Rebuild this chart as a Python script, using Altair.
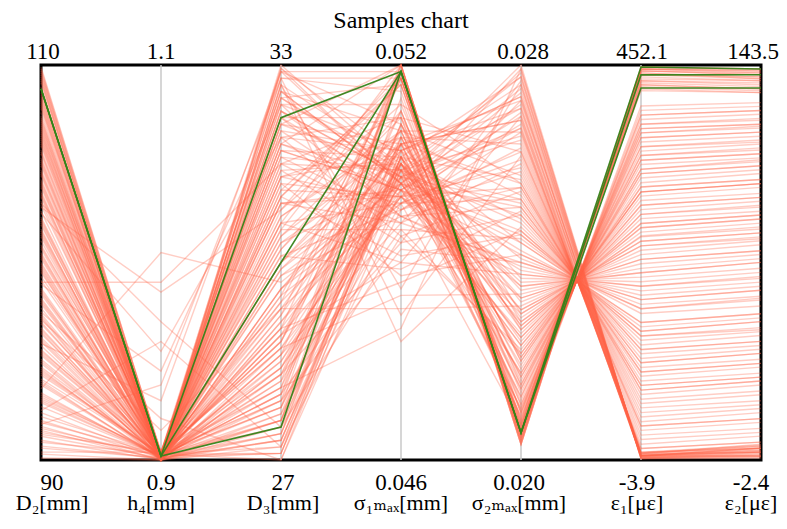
import altair as alt
import pandas as pd

# ---- axes ----
axis_keys = ["D2", "h4", "D3", "s1", "s2", "e1", "e2"]
axis_names = ["D₂[mm]", "h₄[mm]", "D₃[mm]", "σ₁ₘₐₓ[mm]", "σ₂ₘₐₓ[mm]", "ε₁[με]", "ε₂[με]"]
axis_min = [90, 0.9, 27, 0.046, 0.020, -3.9, -2.4]
axis_max = [110, 1.1, 33, 0.052, 0.028, 452.1, 143.5]
min_labels = ["90", "0.9", "27", "0.046", "0.020", "-3.9", "-2.4"]
max_labels = ["110", "1.1", "33", "0.052", "0.028", "452.1", "143.5"]
# label nudges (pixels) for the outermost axes, keeping labels on the page
top_nudge = [2, 0, 0, 0, 2, 1, -8]
bot_nudge = [11, 0, 2, 0, -2, -4, -10]

# ---- sample lines ----
d2 = [105.2, 93.1, 109.4, 98.7, 101.5, 91.2, 107.8, 96.4, 103.9, 99.1,
      94.6, 108.3, 92.5, 104.7, 100.8, 97.2, 106.5, 90.6, 102.3, 95.8,
      109.8, 93.9, 101.1, 107.1, 98.0, 91.8, 104.2, 96.9, 108.9, 100.2,
      94.1, 105.9, 99.6, 92.9, 103.4, 97.7, 106.9, 90.3, 102.8, 95.3,
      108.6, 94.9, 101.9, 109.1, 96.1, 104.5, 91.5, 99.9, 106.2, 93.4,
      100.5, 107.4, 97.5, 103.1, 92.2, 105.5, 98.4, 109.6, 95.1, 102.0,
      90.9, 104.0, 96.7, 108.0, 99.3, 93.6, 106.0, 101.3, 94.3, 107.6,
      97.9, 103.6, 91.0, 105.0, 100.0, 109.2, 95.6, 102.6, 98.9, 92.7,
      106.7, 96.2, 104.9, 93.0, 108.4, 99.5, 101.7, 94.4, 107.0, 97.0,
      103.0, 90.1, 105.7, 98.2, 109.9, 95.0, 102.1, 91.6, 106.4, 100.7,
      97.4, 104.4, 91.4, 108.1, 100.4, 95.5, 106.3, 92.0, 102.5, 109.5,
      98.5, 94.0, 105.3, 101.6, 90.4, 107.3, 96.6, 103.3, 93.3, 99.8,
      108.7, 95.9, 104.1, 91.9, 106.8, 98.1, 102.9, 94.7, 109.7, 100.9,
      92.4, 105.6, 97.3, 107.9, 90.7, 103.8, 99.0, 96.0, 106.1, 93.8,
      101.4, 108.2, 94.5, 104.6, 91.3, 98.6, 107.2, 95.4, 102.2, 109.3,
      93.2, 100.3, 105.1, 97.1, 91.7, 106.6, 99.7, 103.5, 96.5, 108.5]

h4 = [0.901, 0.903, 0.900, 0.902, 0.904, 0.901, 0.900, 0.903, 0.902, 0.903,
      0.900, 0.901, 0.960, 0.902, 0.904, 0.900, 0.903, 0.901, 0.902, 0.900,
      0.903, 0.901, 0.903, 0.900, 0.902, 0.938, 0.901, 0.904, 0.900, 0.902,
      0.903, 0.901, 0.900, 0.902, 0.904, 0.901, 0.903, 0.900, 0.985, 0.902,
      0.901, 0.900, 0.903, 0.902, 0.901, 0.904, 0.900, 0.902, 0.903, 0.901,
      0.900, 0.902, 0.921, 0.901, 0.903, 0.900, 0.902, 0.904, 0.901, 0.900,
      0.903, 0.902, 0.901, 0.900, 0.904, 1.005, 0.902, 0.901, 0.903, 0.900,
      0.902, 0.901, 0.900, 0.903, 0.902, 0.904, 0.901, 0.900, 0.945, 0.902,
      0.901, 0.903, 0.900, 0.902, 0.901, 0.904, 0.900, 0.903, 0.902, 0.901,
      0.970, 0.900, 0.902, 0.901, 0.903, 0.900, 0.904, 0.902, 0.901, 0.900,
      0.902, 0.900, 0.903, 0.901, 0.902, 0.904, 0.900, 0.901, 0.955, 0.902,
      0.903, 0.900, 0.901, 0.902, 0.904, 0.900, 0.903, 0.901, 0.902, 0.900,
      0.901, 0.930, 0.902, 0.903, 0.900, 0.901, 0.904, 0.902, 0.900, 0.903,
      0.901, 0.902, 0.900, 0.904, 0.901, 0.903, 0.990, 0.900, 0.902, 0.901,
      0.903, 0.900, 0.902, 0.901, 0.904, 0.900, 0.903, 0.902, 0.901, 0.900,
      0.902, 0.903, 0.901, 0.915, 0.900, 0.902, 0.901, 0.903, 0.900, 0.902]

d3 = [32.5, 28.1, 30.9, 27.4, 32.9, 29.6, 31.7, 27.9, 33.0, 30.2,
      28.6, 32.2, 27.2, 31.3, 29.0, 32.7, 28.3, 30.6, 31.9, 27.6,
      32.4, 29.3, 28.8, 31.1, 27.1, 32.8, 30.0, 28.4, 31.5, 29.8,
      27.8, 32.1, 30.4, 28.9, 32.6, 27.3, 31.8, 29.1, 30.8, 28.0,
      32.3, 27.5, 31.0, 29.5, 32.95, 28.7, 30.3, 27.7, 31.6, 28.2,
      32.0, 29.9, 27.0, 31.4, 28.5, 32.5, 30.7, 27.9, 31.2, 29.2,
      32.8, 28.0, 30.1, 27.4, 31.9, 29.7, 32.2, 28.6, 30.5, 27.2,
      31.7, 28.9, 32.7, 29.4, 27.6, 31.3, 30.9, 28.3, 32.4, 27.8,
      29.0, 32.1, 28.4, 31.0, 27.1, 30.6, 32.9, 28.8, 31.5, 29.6,
      27.5, 32.3, 30.2, 28.1, 31.8, 27.3, 29.3, 32.6, 30.0, 28.7,
      31.4, 27.7, 32.6, 29.4, 28.2, 32.0, 30.5, 27.3, 31.9, 28.9,
      32.8, 29.9, 27.6, 31.2, 30.3, 28.5, 32.4, 27.9, 31.6, 29.1,
      30.7, 32.9, 28.3, 27.1, 31.0, 29.6, 32.3, 28.0, 30.1, 27.5,
      31.8, 29.2, 32.7, 28.7, 27.4, 30.9, 31.5, 28.4, 32.1, 29.8,
      27.8, 31.3, 30.4, 32.5, 28.1, 29.5, 27.2, 31.7, 30.0, 28.6,
      32.2, 27.0, 30.8, 29.3, 31.1, 28.8, 32.95, 27.6, 30.6, 29.0]

s1 = [0.0503, 0.0508, 0.0496, 0.0511, 0.0519, 0.0500, 0.0506, 0.0492, 0.0504, 0.0513,
      0.0518, 0.0501, 0.0498, 0.0509, 0.0487, 0.0505, 0.0502, 0.0520, 0.0494, 0.0515,
      0.0507, 0.0499, 0.0510, 0.0517, 0.0503, 0.0482, 0.0505, 0.0500, 0.0512, 0.0497,
      0.0519, 0.0504, 0.0508, 0.0490, 0.0502, 0.0506, 0.0520, 0.0501, 0.0514, 0.0495,
      0.0503, 0.0509, 0.0518, 0.0499, 0.0506, 0.0485, 0.0502, 0.0511, 0.0504, 0.0519,
      0.0498, 0.0507, 0.0501, 0.0493, 0.0505, 0.0517, 0.0510, 0.0503, 0.0500, 0.0508,
      0.0516, 0.0520, 0.0489, 0.0504, 0.0507, 0.0502, 0.0512, 0.0496, 0.0518, 0.0505,
      0.0501, 0.0509, 0.0478, 0.0503, 0.0519, 0.0506, 0.0500, 0.0513, 0.0497, 0.0504,
      0.0520, 0.0508, 0.0502, 0.0491, 0.0506, 0.0499, 0.0511, 0.0518, 0.0504, 0.0507,
      0.0494, 0.0503, 0.0510, 0.0519, 0.0501, 0.0505, 0.0483, 0.0502, 0.0508, 0.0500,
      0.0505, 0.0499, 0.0510, 0.0519, 0.0502, 0.0507, 0.0495, 0.0504, 0.0512, 0.0500,
      0.0518, 0.0503, 0.0508, 0.0488, 0.0506, 0.0501, 0.0514, 0.0520, 0.0497, 0.0505,
      0.0509, 0.0502, 0.0493, 0.0506, 0.0517, 0.0504, 0.0500, 0.0511, 0.0498, 0.0507,
      0.0503, 0.0519, 0.0486, 0.0505, 0.0509, 0.0501, 0.0496, 0.0508, 0.0520, 0.0502,
      0.0506, 0.0499, 0.0512, 0.0504, 0.0480, 0.0518, 0.0507, 0.0501, 0.0510, 0.0503,
      0.0497, 0.0505, 0.0519, 0.0508, 0.0500, 0.0513, 0.0502, 0.0506, 0.0490, 0.0504]

s2 = [0.02496, 0.02144, 0.02728, 0.0228, 0.02048, 0.02592, 0.02216, 0.024, 0.02776, 0.02096,
      0.02064, 0.02352, 0.02664, 0.02168, 0.02464, 0.0276, 0.02248, 0.0204, 0.02544, 0.02072,
      0.0232, 0.02704, 0.0212, 0.0208, 0.02424, 0.02616, 0.02192, 0.02792, 0.02296, 0.02512,
      0.02056, 0.02104, 0.02688, 0.02376, 0.02232, 0.02568, 0.02032, 0.02744, 0.02152, 0.02448,
      0.02648, 0.02264, 0.02072, 0.02528, 0.02088, 0.02336, 0.0272, 0.022, 0.0248, 0.02048,
      0.02632, 0.02128, 0.02416, 0.02768, 0.02304, 0.02096, 0.02576, 0.02176, 0.0268, 0.02368,
      0.02056, 0.0204, 0.02504, 0.0224, 0.02736, 0.0244, 0.02136, 0.026, 0.02064, 0.02328,
      0.02696, 0.02208, 0.02472, 0.02784, 0.0208, 0.02272, 0.02552, 0.02112, 0.02392, 0.02656,
      0.02032, 0.02184, 0.02752, 0.02456, 0.02288, 0.02624, 0.0208, 0.02056, 0.0236, 0.02712,
      0.02224, 0.0252, 0.0216, 0.02072, 0.02672, 0.02408, 0.02312, 0.028, 0.0256, 0.02256,
      0.02344, 0.02608, 0.02112, 0.0204, 0.02464, 0.02736, 0.02216, 0.02528, 0.02064, 0.02296,
      0.02056, 0.02672, 0.02168, 0.02416, 0.02776, 0.02248, 0.0256, 0.02032, 0.02376, 0.02088,
      0.0264, 0.0228, 0.02496, 0.02144, 0.02048, 0.02712, 0.02328, 0.022, 0.02584, 0.0244,
      0.02104, 0.02064, 0.0276, 0.02264, 0.02536, 0.02176, 0.024, 0.02688, 0.0204, 0.02232,
      0.02488, 0.02072, 0.02624, 0.02352, 0.02792, 0.02048, 0.02152, 0.02456, 0.02664, 0.02304,
      0.02552, 0.02208, 0.02032, 0.02728, 0.02384, 0.02096, 0.02512, 0.02272, 0.02696, 0.02128]

e1 = [123.3, 347.7, 5.2, 254.7, 445.3, 56.3, 305.3, 181.2, -0.3, 378.7,
      433.9, 212.2, 9.3, 331.7, 139.3, 1.6, 279.7, 447.5, 87.3, 394.2,
      233.2, 4.3, 363.2, 427.0, 165.3, 40.3, 316.2, -2.1, 248.7, 108.3,
      440.7, 373.7, 0.7, 196.7, 290.2, 71.8, 449.8, 3.0, 342.2, 149.8,
      19.8, 269.2, 431.6, 97.8, 383.7, 222.7, -1.2, 311.2, 128.8, 443.0,
      30.3, 357.7, 170.7, 0.7, 243.3, 422.5, 66.3, 326.7, 3.4, 201.8,
      404.7, 447.5, 113.3, 285.2, -0.3, 154.8, 352.7, 50.8, 436.1, 227.7,
      1.6, 305.7, 134.3, -1.6, 429.3, 264.2, 82.3, 368.2, 186.3, 14.3,
      445.3, 321.7, 0.7, 144.8, 253.7, 35.3, 389.2, 438.4, 207.2, 5.2,
      295.7, 102.8, 337.2, 424.7, 4.3, 175.8, 238.2, -2.5, 76.8, 274.7,
      217.3, 45.8, 368.2, 443.0, 139.3, 0.7, 300.7, 97.8, 399.7, 248.7,
      433.9, 4.3, 331.7, 170.7, -1.2, 279.7, 76.8, 447.5, 196.7, 383.7,
      24.8, 259.2, 118.8, 347.7, 429.3, 1.6, 227.7, 311.2, 61.3, 154.8,
      373.7, 440.7, -0.3, 269.2, 92.8, 326.7, 181.2, 0.7, 447.5, 290.2,
      123.8, 394.2, 35.3, 212.2, -2.1, 445.3, 342.2, 144.8, 9.3, 243.3,
      82.3, 305.7, 449.8, 3.0, 191.3, 378.7, 108.3, 264.2, 1.6, 357.7]

e2 = [41.4, 112.9, 2.0, 83.7, 139.9, 19.5, 99.7, 60.3, 0.5, 121.6,
      136.9, 70.6, 4.2, 108.5, 45.7, -0.9, 91.7, 140.6, 29.7, 126.7,
      77.1, 2.7, 117.2, 134.0, 54.5, 15.1, 103.4, -0.6, 81.5, 37.0,
      139.1, 120.9, 1.2, 64.7, 94.6, 25.3, 142.0, 3.4, 110.7, 50.1,
      7.8, 88.1, 135.5, 33.3, 123.8, 73.5, -1.2, 101.2, 43.6, 138.4,
      11.5, 115.8, 56.7, 2.0, 79.3, 133.3, 23.1, 106.3, 0.5, 66.9,
      129.6, 141.3, 38.5, 93.2, -0.2, 51.6, 114.3, 18.0, 137.7, 74.9,
      1.7, 99.7, 45.0, 0.2, 134.7, 86.6, 28.2, 118.7, 61.8, 6.4,
      140.6, 104.8, 0.8, 48.7, 82.9, 12.9, 125.3, 137.7, 68.4, 3.1,
      96.1, 34.8, 109.2, 133.3, 2.0, 58.1, 78.6, -1.7, 26.8, 89.5,
      72.0, 16.6, 118.7, 139.1, 46.5, 0.5, 98.3, 33.3, 128.2, 81.5,
      136.2, 2.7, 107.8, 57.4, -0.6, 91.0, 26.8, 141.3, 65.4, 123.1,
      9.3, 85.1, 39.9, 112.1, 134.7, 1.2, 74.9, 101.2, 21.7, 51.6,
      120.2, 138.4, -0.9, 88.1, 31.9, 106.3, 60.3, 2.0, 142.0, 94.6,
      41.4, 126.7, 12.9, 70.6, -1.2, 139.9, 110.7, 48.7, 4.2, 80.0,
      28.2, 99.7, 142.0, 2.0, 63.3, 121.6, 37.0, 86.6, 0.5, 115.0]

# ---- highlighted (green) samples ----
g_d2 = [108.8, 108.8, 108.8]
g_h4 = [0.902, 0.902, 0.902]
g_d3 = [32.2, 30.0, 27.5]
g_s1 = [0.0519, 0.0519, 0.0519]
g_s2 = [0.02055, 0.02055, 0.02055]
g_e1 = [449.8, 440.7, 425.6]
g_e2 = [142.0, 139.9, 135.0]

samples = pd.DataFrame({"D2": d2, "h4": h4, "D3": d3, "s1": s1, "s2": s2, "e1": e1, "e2": e2})
samples["group"] = "sample"
greens = pd.DataFrame({"D2": g_d2, "h4": g_h4, "D3": g_d3, "s1": g_s1, "s2": g_s2, "e1": g_e1, "e2": g_e2})
greens["group"] = "best"
wide = pd.concat([samples, greens], ignore_index=True)
wide["id"] = range(len(wide))

W, H = 720, 395
STEP = W / 6.0

axes_df = pd.DataFrame({
    "key": axis_keys, "idx": list(range(7)), "lo": axis_min, "hi": axis_max,
    "name": axis_names, "minl": min_labels, "maxl": max_labels,
    "tn": top_nudge, "bn": bot_nudge,
})

FONT = "Liberation Serif, Times New Roman, DejaVu Serif, serif"
xs = alt.Scale(domain=[0, 6], nice=False, zero=False)
ys = alt.Scale(domain=[0, 1], nice=False, zero=False)
X = alt.X("idx:Q", scale=xs, axis=None)

base = (
    alt.Chart(wide)
    .transform_fold(axis_keys, as_=["key", "value"])
    .transform_lookup(lookup="key", from_=alt.LookupData(axes_df, "key", ["idx", "lo", "hi"]))
    .transform_calculate(norm="(datum.value - datum.lo) / (datum.hi - datum.lo)")
)
enc = dict(x=X, y=alt.Y("norm:Q", scale=ys, axis=None), detail="id:N", order="idx:Q")
red = base.transform_filter("datum.group == 'sample'").mark_line(
    color="#ff6347", strokeWidth=1.4, opacity=0.32).encode(**enc)
green = base.transform_filter("datum.group == 'best'").mark_line(
    color="#358319", strokeWidth=1.6, opacity=0.95).encode(**enc)

rules = alt.Chart(axes_df).transform_filter("datum.idx > 0 && datum.idx < 6").mark_rule(
    color="#c8c8c8", strokeWidth=1.5).encode(x=X)

lab = alt.Chart(axes_df).transform_calculate(
    xt=f"datum.idx + datum.tn / {STEP}", xb=f"datum.idx + datum.bn / {STEP}")
txt = dict(font=FONT, fontSize=23, baseline="alphabetic", color="black")
top_txt = lab.mark_text(**txt).encode(
    x=alt.X("xt:Q", scale=xs, axis=None), y=alt.value(-6), text="maxl:N")
bot_txt = lab.mark_text(**txt).encode(
    x=alt.X("xb:Q", scale=xs, axis=None), y=alt.value(H + 30), text="minl:N")
name_txt = lab.mark_text(font=FONT, fontSize=22, baseline="alphabetic", color="black").encode(
    x=alt.X("xb:Q", scale=xs, axis=None), y=alt.value(H + 50), text="name:N")
title_txt = alt.Chart(pd.DataFrame({"t": ["Samples chart"], "idx": [3]})).mark_text(
    font=FONT, fontSize=24, baseline="alphabetic", color="black").encode(
    x=X, y=alt.value(-37), text="t:N")

chart = (
    alt.layer(rules, red, green, top_txt, bot_txt, name_txt, title_txt)
    .properties(width=W, height=H, background="white",
                autosize=alt.AutoSizeParams(type="none"),
                padding={"left": 33, "top": 57, "right": 18, "bottom": 58})
    .configure_view(stroke="black", strokeWidth=3)
)

chart.save("out.html", embed_options={"renderer": "svg", "actions": False})
